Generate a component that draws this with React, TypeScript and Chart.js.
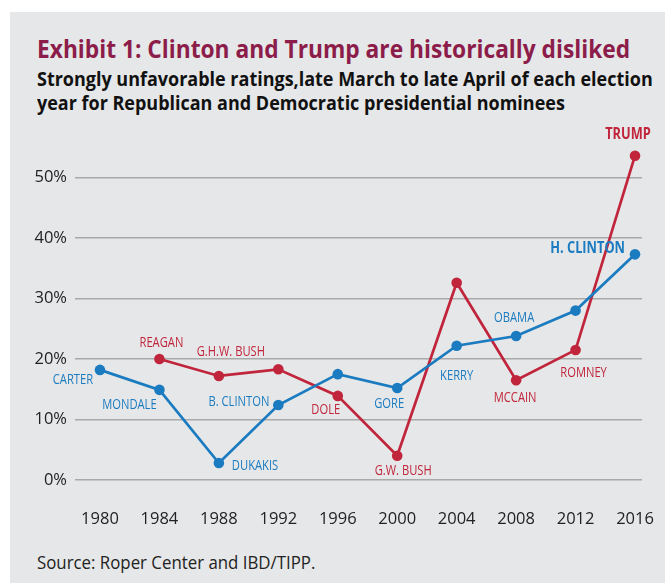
import React, { useEffect, useRef } from 'react';
import { Chart, registerables } from 'chart.js';
Chart.register(...registerables);

const years = [1980, 1984, 1988, 1992, 1996, 2000, 2004, 2008, 2012, 2016];
const democratValues = [18.2, 14.9, 2.8, 12.4, 17.5, 15.2, 22.2, 23.8, 28.0, 37.3];
const republicanValues = [null, 20.0, 17.2, 18.3, 13.9, 4.0, 32.6, 16.5, 21.5, 53.6];
const democratNames = ['CARTER', 'MONDALE', 'DUKAKIS', 'B. CLINTON', '', 'GORE', 'KERRY', 'OBAMA', '', 'H. CLINTON'];
const republicanNames = ['', 'REAGAN', 'G.H.W. BUSH', '', 'DOLE', 'G.W. BUSH', '', 'MCCAIN', 'ROMNEY', 'TRUMP'];
const yTicks = [0, 10, 20, 30, 40, 50];

const BLUE = '#1b7bc0';
const RED = '#c0253c';
const FONT = '"Open Sans", sans-serif';
const LABEL_SQUEEZE = 0.8;

// label placement relative to each point: [dx, dy, align, bold, size]
const demLabelPos: any[] = [
  [-27, 10, 'center', false, 14],
  [-30, 15, 'center', false, 14],
  [13, 3, 'left', false, 14],
  [-9, -3, 'right', false, 14],
  null,
  [-8, 16, 'center', false, 14],
  [0, 30, 'center', false, 14],
  [-2, -18, 'center', false, 14],
  null,
  [-10, -6, 'right', true, 16],
];
const repLabelPos: any[] = [
  null,
  [2, -16, 'center', false, 14],
  [12, -24, 'center', false, 14],
  null,
  [-12, 14, 'center', false, 14],
  [6, 15, 'center', false, 14],
  null,
  [-1, 18, 'center', false, 14],
  [8, 23, 'center', false, 14],
  [-7, -21, 'center', true, 16],
];

const labelPlugin = {
  id: 'pointLabels',
  afterDatasetsDraw(chart: any) {
    const ctx = chart.ctx;
    const sets = [
      { names: democratNames, pos: demLabelPos, color: BLUE, idx: 0 },
      { names: republicanNames, pos: repLabelPos, color: RED, idx: 1 },
    ];
    sets.forEach((s) => {
      const meta = chart.getDatasetMeta(s.idx);
      meta.data.forEach((pt: any, i: number) => {
        const name = s.names[i];
        const p = s.pos[i];
        if (!name || !p) return;
        ctx.save();
        ctx.font = `${p[3] ? 'bold ' : ''}${p[4]}px ${FONT}`;
        ctx.fillStyle = s.color;
        ctx.textAlign = p[2];
        ctx.textBaseline = 'middle';
        ctx.translate(pt.x + p[0], pt.y + p[1]);
        ctx.scale(LABEL_SQUEEZE, 1);
        ctx.fillText(name, 0, 0);
        ctx.restore();
      });
    });
  },
};

export default function App() {
  const ref = useRef<HTMLCanvasElement>(null);
  useEffect(() => {
    if (!ref.current) return;
    const chart = new Chart(ref.current, {
      type: 'line',
      data: {
        datasets: [
          {
            label: 'Democratic',
            data: years.map((y, i) => ({ x: y, y: democratValues[i] })),
            borderColor: BLUE,
            backgroundColor: BLUE,
            borderWidth: 2.7,
            pointRadius: 5.3,
            pointBorderWidth: 0,
            tension: 0,
          },
          {
            label: 'Republican',
            data: years.map((y, i) => ({ x: y, y: republicanValues[i] })),
            borderColor: RED,
            backgroundColor: RED,
            borderWidth: 2.7,
            pointRadius: 5.3,
            pointBorderWidth: 0,
            tension: 0,
            spanGaps: false,
          },
        ],
      },
      options: {
        responsive: false,
        animation: false,
        layout: { padding: { left: 0, right: 23, top: 140, bottom: 0 } },
        plugins: { legend: { display: false }, tooltip: { enabled: false } },
        scales: {
          x: {
            type: 'linear',
            min: 1978.32,
            max: 2016.47,
            afterBuildTicks: (axis: any) => {
              axis.ticks = years.map((v) => ({ value: v }));
            },
            afterFit: (axis: any) => {
              axis.height = 105;
              axis.paddingLeft = 0;
              axis.paddingRight = 0;
            },
            grid: { display: false, drawTicks: false, tickLength: 0 },
            border: { display: false },
            ticks: {
              padding: 29,
              autoSkip: false,
              maxRotation: 0,
              color: '#222',
              font: { family: FONT, size: 16.5 },
              callback: (v: any) => String(v),
            },
          },
          y: {
            min: 0,
            max: 56.2,
            afterBuildTicks: (axis: any) => {
              axis.ticks = yTicks.map((v) => ({ value: v }));
            },
            afterFit: (axis: any) => {
              axis.width = 75;
              axis.paddingTop = 0;
              axis.paddingBottom = 0;
            },
            grid: { color: '#a9a9a9', lineWidth: 1.5, drawTicks: false, tickLength: 0 },
            border: { display: false },
            ticks: {
              padding: 8,
              color: '#222',
              font: { family: FONT, size: 16.5 },
              callback: (v: any) => `${v}%`,
            },
          },
        },
      },
      plugins: [labelPlugin],
    });
    return () => chart.destroy();
  }, []);

  const textBase: any = { position: 'absolute', left: 37, fontFamily: FONT, whiteSpace: 'nowrap', transformOrigin: 'left center' };

  return (
    <div style={{ position: 'absolute', left: 0, top: 0, width: 665, height: 585 }}>
      <div style={{ position: 'absolute', left: 10, top: 12, width: 655, height: 571, background: '#e6e7e8' }} />
      <div
        style={{
          ...textBase, top: 34, fontWeight: 'bold', fontSize: 25, transform: 'scaleX(0.91)',
          color: '#8c1d4a', lineHeight: '28px',
        }}
      >
        Exhibit 1: Clinton and Trump are historically disliked
      </div>
      <div
        style={{
          ...textBase, top: 67, fontWeight: 'bold', fontSize: 20, transform: 'scaleX(0.899)',
          color: '#111', lineHeight: '24px',
        }}
      >
        <div>Strongly unfavorable ratings,late March to late April of each election</div>
        <div>year for Republican and Democratic presidential nominees</div>
      </div>
      <div
        style={{
          ...textBase, top: 549, fontSize: 18, transform: 'scaleX(0.935)', color: '#222', lineHeight: '26px',
        }}
      >
        Source: Roper Center and IBD/TIPP.
      </div>
      <canvas ref={ref} width={665} height={585} style={{ position: 'absolute', left: 0, top: 0 }} />
    </div>
  );
}
